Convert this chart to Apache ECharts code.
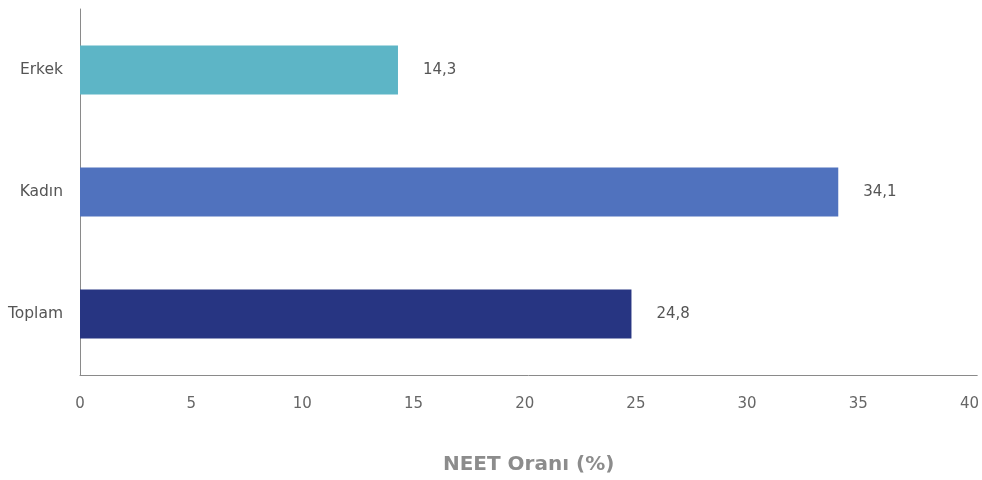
<!DOCTYPE html>
<html>
<head>
<meta charset="utf-8">
<script src="https://cdn.jsdelivr.net/npm/echarts@6/dist/echarts.min.js"></script>
<style>html,body{margin:0;padding:0;background:#fff;}#c{width:982px;height:480px;}</style>
</head>
<body>
<div id="c"></div>
<script>
const categories = ['Toplam', 'Kadın', 'Erkek'];
const values = [24.8, 34.1, 14.3];
const barColors = ['#273582', '#5072BE', '#5DB5C6'];
const xTicks = [0, 5, 10, 15, 20, 25, 30, 35, 40];
const axisName = 'NEET Oranı (%)';

const chart = echarts.init(document.getElementById('c'), null, {renderer: 'canvas'});
const font = '"DejaVu Sans", sans-serif';
chart.setOption({
  animation: false,
  grid: {left: 80, right: 0, top: 9, bottom: 95, containLabel: false},
  xAxis: {
    type: 'value', min: xTicks[0], max: 40.35, interval: 5,
    name: axisName, nameLocation: 'middle', nameGap: 80,
    nameTextStyle: {color: '#8c8c8c', fontSize: 20, fontFamily: font, fontWeight: 'bold'},
    axisLine: {show: true, lineStyle: {color: '#8a8a8a', width: 1}},
    axisTick: {show: false},
    splitLine: {show: false},
    axisLabel: {
      color: '#666', fontSize: 15, fontFamily: font, margin: 22,
      formatter: v => (xTicks.indexOf(v) >= 0 ? String(v) : '')
    }
  },
  yAxis: {
    type: 'category', data: categories,
    axisLine: {show: true, lineStyle: {color: '#8a8a8a', width: 1}},
    axisTick: {show: false},
    axisLabel: {color: '#555', fontSize: 15.5, fontFamily: font, margin: 17}
  },
  series: [{
    type: 'bar',
    data: values.map((v, i) => ({value: v, itemStyle: {color: barColors[i]}})),
    barWidth: '40%',
    label: {
      show: true, position: 'right', distance: 25,
      color: '#555', fontSize: 15, fontFamily: font,
      formatter: p => String(p.value).replace('.', ',')
    }
  }]
});
</script>
</body>
</html>
